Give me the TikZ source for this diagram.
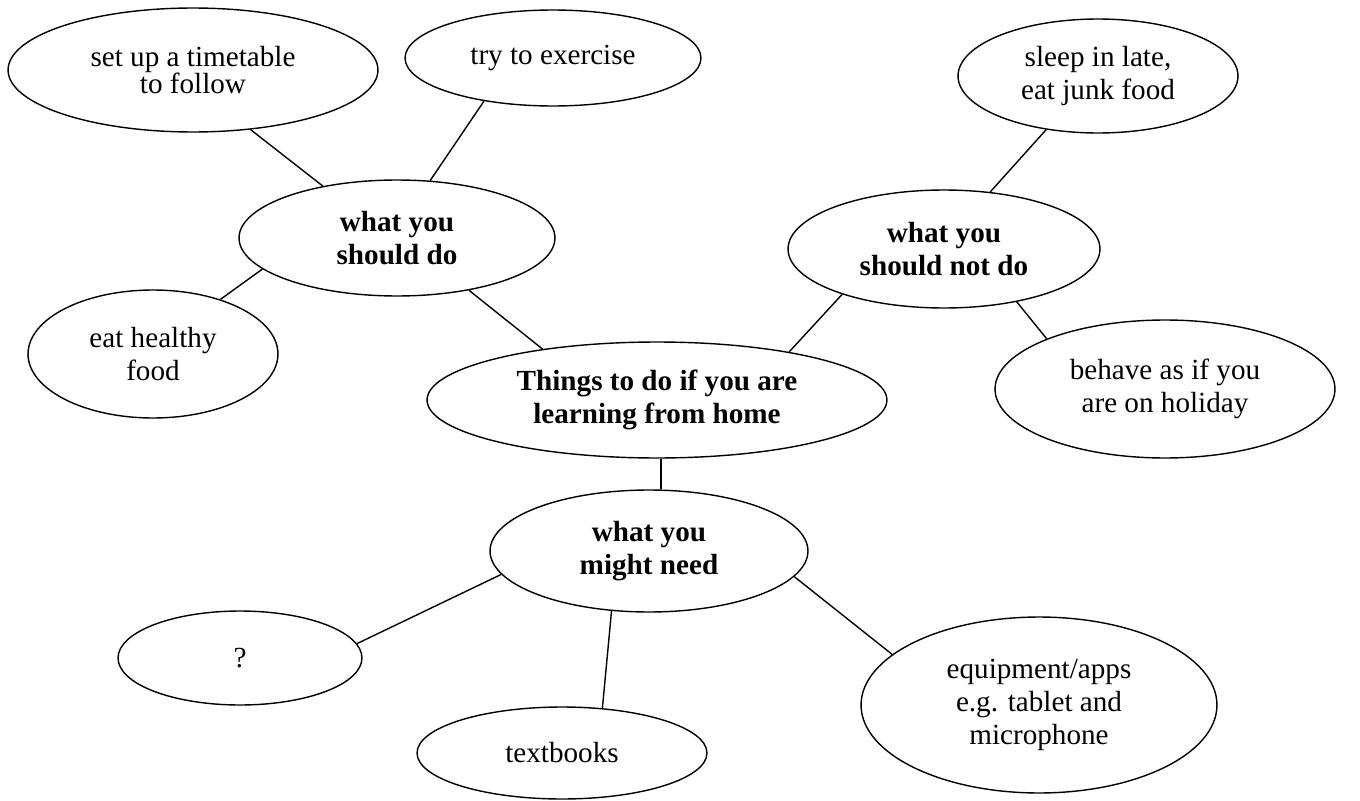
\documentclass[tikz,border=0pt]{standalone}
\usepackage{fontspec}
\setmainfont{Liberation Serif}
\usetikzlibrary{shapes.geometric}

\begin{document}
\begin{tikzpicture}[
  x=0.02cm, y=-0.02cm,
  bubble/.style={ellipse, draw, line width=0.8pt, inner sep=0pt, align=center,
    font=\fontsize{16.6}{18.9}\selectfont},
  hub/.style={bubble, font=\fontsize{16.6}{18.9}\selectfont\bfseries},
  link/.style={line width=0.8pt}
]
  \useasboundingbox (0,0) rectangle (1360,801);

  % centre
  \node[hub, minimum width=9.2cm, minimum height=2.32cm] (main) at (657,400) {Things to do if you are\\learning from home};

  % what you should do
  \node[hub, minimum width=6.32cm, minimum height=2.32cm] (should) at (397,238) {what you\\should do};
  \node[bubble, minimum width=7.4cm, minimum height=2.48cm] (timetable) at (193,70) {set up a timetable\\[-3.5pt]to follow};
  \node[bubble, minimum width=5.92cm, minimum height=1.92cm] (exercise) at (553,58) {try to exercise};
  \node[bubble, minimum width=5cm, minimum height=2.56cm] (healthy) at (153,354) {eat healthy\\food};

  % what you should not do
  \node[hub, minimum width=6.24cm, minimum height=2.36cm] (shouldnot) at (944,249) {what you\\should not do};
  \node[bubble, minimum width=5.6cm, minimum height=2.28cm] (sleep) at (1098,76) {sleep in late,\\eat junk food};
  \node[bubble, minimum width=6.8cm, minimum height=2.76cm] (holiday) at (1165,389) {behave as if you\\are on holiday};

  % what you might need
  \node[hub, minimum width=6.36cm, minimum height=2.44cm] (need) at (649,551) {what you\\might need};
  \node[bubble, minimum width=4.88cm, minimum height=1.88cm] (unknown) at (240,658) {?};
  \node[bubble, minimum width=5.8cm, minimum height=1.84cm] (books) at (562,753) {textbooks};
  \node[bubble, minimum width=7.12cm, minimum height=3.52cm] (apps) at (1039,705) {equipment/apps\\e.g. tablet and\\microphone};

  % connectors
  \draw[link] (should.145) -- (timetable.-46);
  \draw[link] (should.60) -- (exercise.-148);
  \draw[link] (should.193) -- (healthy.39);
  \draw[link] (should.-36) -- (main.156);
  \draw[link] (main.20) -- (shouldnot.-156);
  \draw[link] (shouldnot.51) -- (sleep.-134);
  \draw[link] (shouldnot.-36) -- (holiday.157);
  \draw[link] (main.-86) -- (main.-86 |- need.north);
  \draw[link] (need.189) -- (unknown.7);
  \draw[link] (need.-122) -- (books.48);
  \draw[link] (need.-10) -- (apps.161);
\end{tikzpicture}
\end{document}
